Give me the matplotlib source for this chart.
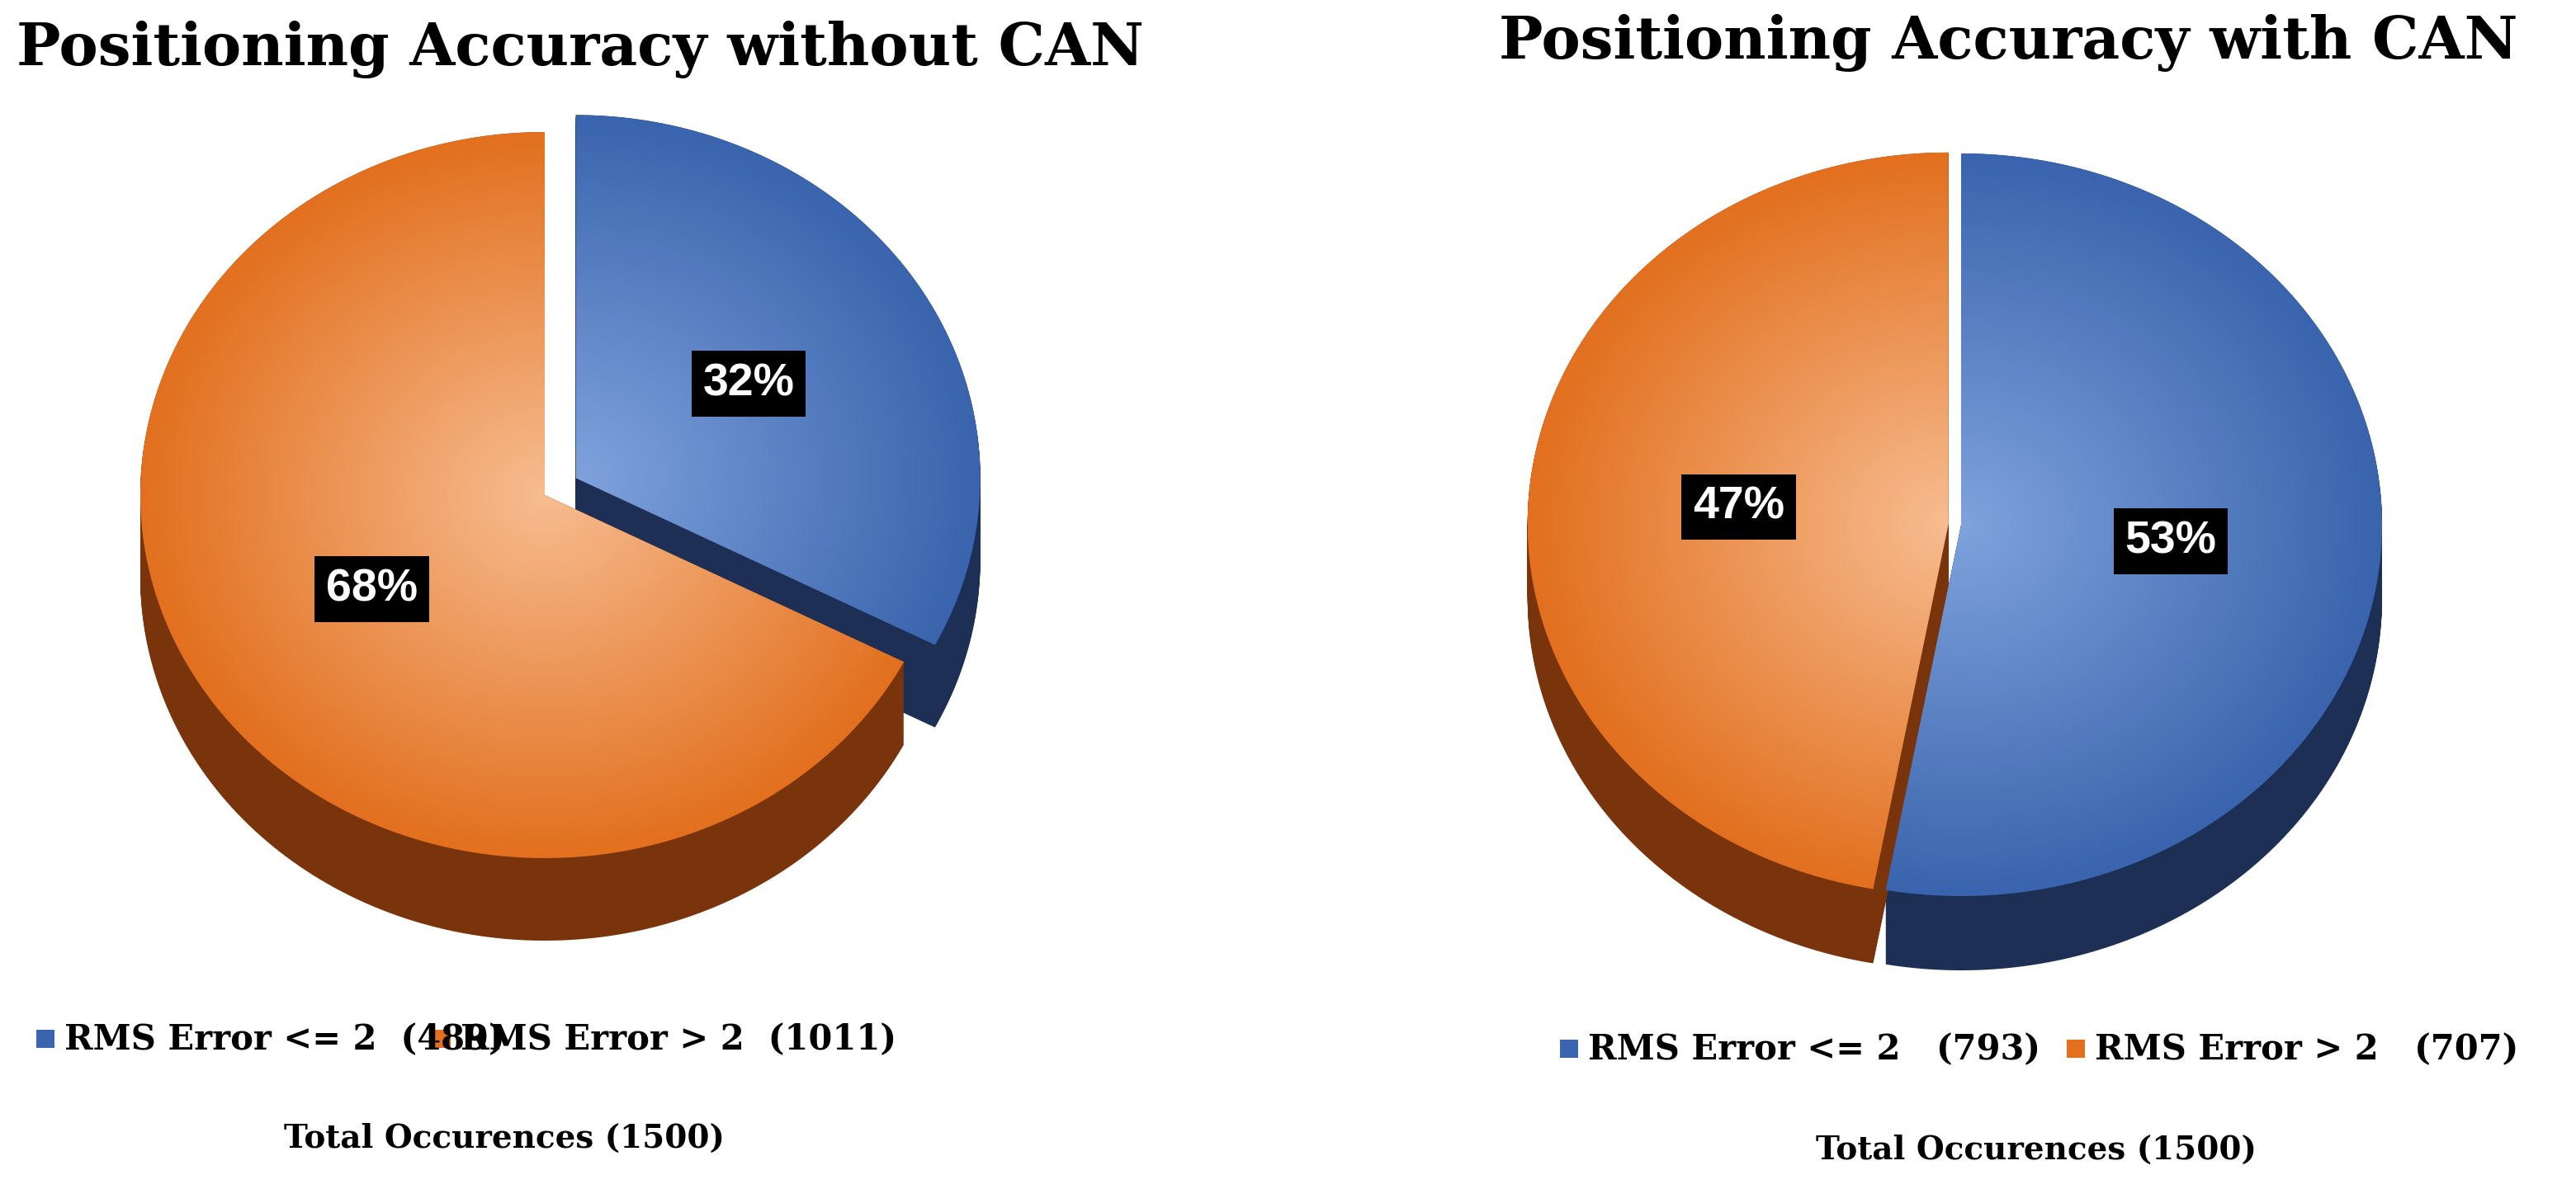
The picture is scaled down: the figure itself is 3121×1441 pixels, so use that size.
import numpy as np
import matplotlib.pyplot as plt
from matplotlib.patches import Polygon, Rectangle
from matplotlib.colors import LinearSegmentedColormap

# data
titles = ["Positioning Accuracy without CAN", "Positioning Accuracy with CAN"]
counts_left = [489, 1011]
counts_right = [793, 707]
pct_left = ["32%", "68%"]
pct_right = ["53%", "47%"]
labels_left = ["RMS Error <= 2  (489)", "RMS Error > 2  (1011)"]
labels_right = ["RMS Error <= 2   (793)", "RMS Error > 2   (707)"]
total_text = "Total Occurences (1500)"

blue = dict(top_in="#7fa2dc", top_out="#3a64ad", side="#1d2f55")
orange = dict(top_in="#f7bc90", top_out="#e2701f", side="#7a340c")

fig = plt.figure(figsize=(31.21, 14.41), dpi=100)
ax = fig.add_axes([0, 0, 1, 1])
ax.set_xlim(0, 1560.5)
ax.set_ylim(720.5, 0)
ax.axis("off")


def wedge_pts(cx, cy, rx, ry, a0, a1, n=200):
    t = np.radians(np.linspace(a0, a1, n))
    xs = np.concatenate([[cx], cx + rx * np.cos(t), [cx]])
    ys = np.concatenate([[cy], cy - ry * np.sin(t), [cy]])
    return np.column_stack([xs, ys])


def draw_pie(cx, cy, rx, ry, depth, counts, pcts, styles, explode, start=90):
    fr = np.array(counts) / np.sum(counts)
    angs = start - np.concatenate([[0], np.cumsum(fr) * 360])
    wedges = []
    for i in range(len(counts)):
        a0, a1 = angs[i + 1], angs[i]
        mid = np.radians((a0 + a1) / 2)
        ox = cx + explode[i] * rx * np.cos(mid)
        oy = cy - explode[i] * ry * np.sin(mid)
        wedges.append((ox, oy, a0, a1, mid, styles[i], pcts[i]))
    # extrusion
    for ox, oy, a0, a1, mid, st, p in wedges:
        for d in np.linspace(depth, 0, 60):
            ax.add_patch(Polygon(wedge_pts(ox, oy + d, rx, ry, a0, a1), closed=True,
                                 facecolor=st["side"], edgecolor="none"))
    # tops with radial gradient
    for ox, oy, a0, a1, mid, st, p in wedges:
        poly = Polygon(wedge_pts(ox, oy, rx, ry, a0, a1), closed=True,
                       facecolor="none", edgecolor="none")
        ax.add_patch(poly)
        gx, gy = np.meshgrid(np.linspace(-1, 1, 300), np.linspace(-1, 1, 300))
        rr = np.clip(np.sqrt(gx ** 2 + gy ** 2), 0, 1)
        cmap = LinearSegmentedColormap.from_list("g", [st["top_in"], st["top_out"]])
        im = ax.imshow(rr, cmap=cmap, extent=(ox - rx, ox + rx, oy + ry, oy - ry),
                       interpolation="bilinear", zorder=2)
        im.set_clip_path(poly)
        lx = ox + 0.5 * rx * np.cos(mid)
        ly = oy - 0.5 * ry * np.sin(mid)
        ax.text(lx, ly, p, color="white", fontsize=40, fontweight="bold",
                family="Liberation Sans", ha="center", va="center",
                zorder=5, bbox=dict(facecolor="black", edgecolor="none", pad=10))


draw_pie(330, 300, 245, 220, 50, counts_left, pct_left, [blue, orange], [0.09, 0.0])
draw_pie(1188, 318, 255, 225, 45, counts_right, pct_right, [blue, orange], [0.0, 0.03])

ax.text(10, 30, titles[0], fontsize=51, fontweight="bold", family="DejaVu Serif",
        ha="left", va="center")
ax.text(908, 26, titles[1], fontsize=51, fontweight="bold", family="DejaVu Serif",
        ha="left", va="center")


def legend(x0, y, x1, labels):
    for x, lab, c in zip([x0, x1], labels, [blue["top_out"], orange["top_out"]]):
        ax.add_patch(Rectangle((x, y - 6), 11, 11, facecolor=c, edgecolor="none"))
        ax.text(x + 17, y, lab, fontsize=30, fontweight="bold", family="DejaVu Serif",
                ha="left", va="center")


legend(22, 630, 262, labels_left)
legend(945, 636, 1252, labels_right)
ax.text(172, 690, total_text, fontsize=28, fontweight="bold", family="DejaVu Serif",
        ha="left", va="center")
ax.text(1100, 697, total_text, fontsize=28, fontweight="bold", family="DejaVu Serif",
        ha="left", va="center")

fig.savefig("out.png", dpi=100)
